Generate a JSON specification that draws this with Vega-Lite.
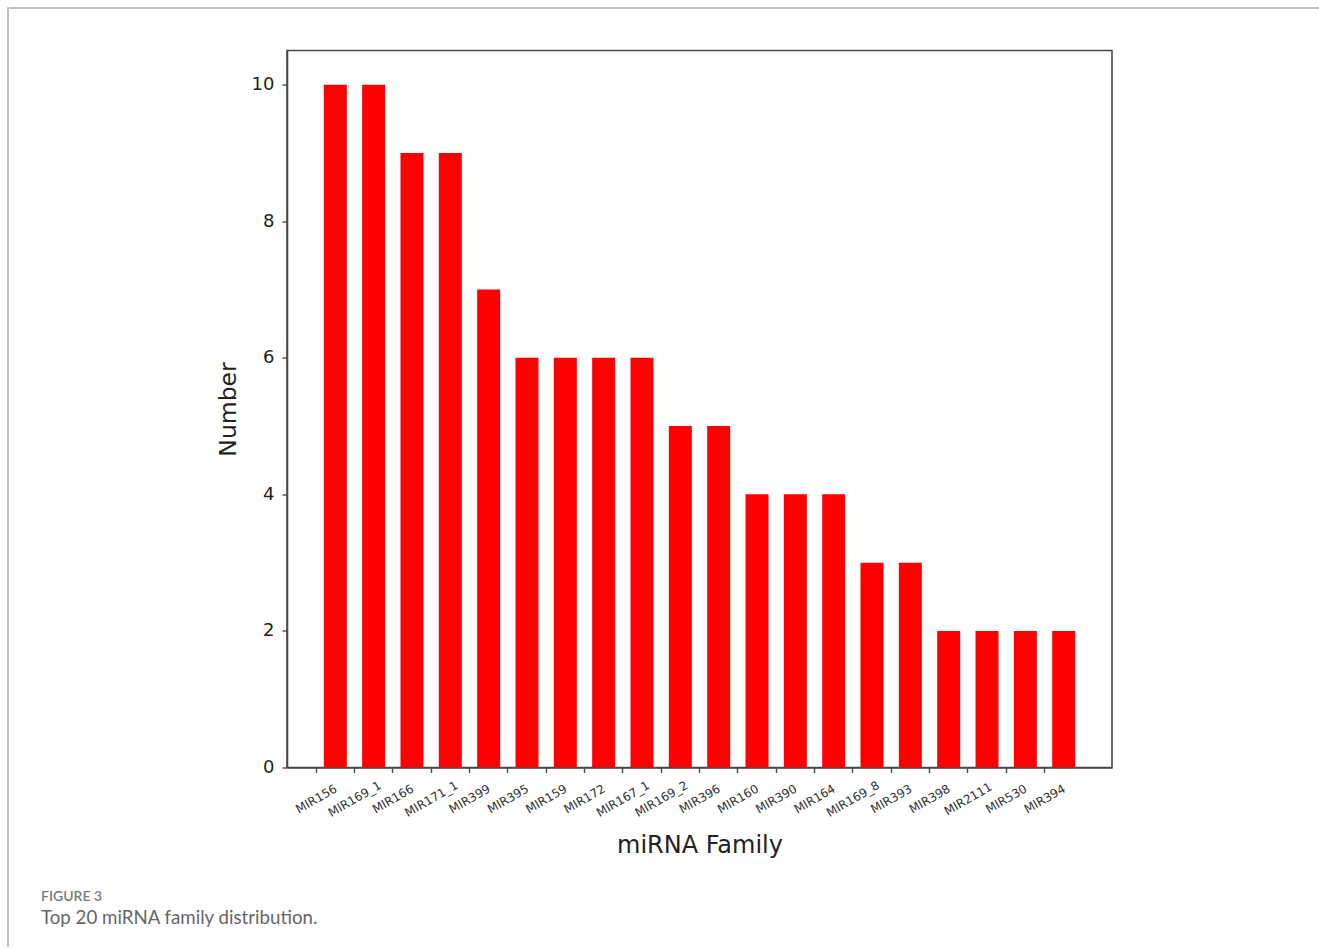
{
  "$schema": "https://vega.github.io/schema/vega-lite/v6.json",
  "padding": {"left": 7, "top": 7, "right": 0, "bottom": 0},
  "background": "white",
  "spacing": 0,
  "config": {
    "view": {"stroke": null},
    "font": "DejaVu Sans",
    "concat": {"spacing": 0}
  },
  "hconcat": [
    {
      "width": 0.01,
      "height": 938,
      "view": {"stroke": "#ababab", "strokeWidth": 1.5},
      "data": {"values": []},
      "mark": "point"
    },
    {
      "align": "none",
      "spacing": 40.5,
      "vconcat": [
        {
          "width": 1310,
          "height": 0.01,
          "view": {"stroke": "#ababab", "strokeWidth": 1.5},
          "data": {"values": []},
          "mark": "point"
        },
        {
          "spacing": 20,
          "title": {
            "text": "FIGURE 3",
            "subtitle": "Top 20 miRNA family distribution.",
            "orient": "bottom",
            "anchor": "start",
            "frame": "group",
            "dx": 31,
            "offset": 32,
            "font": "Lato",
            "fontSize": 14,
            "fontWeight": 600,
            "color": "#7a7a7a",
            "subtitleFont": "Lato",
            "subtitleFontSize": 18.7,
            "subtitleColor": "#666666",
            "subtitlePadding": 5
          },
          "hconcat": [
            {
              "width": 185,
              "height": 1,
              "data": {"values": []},
              "mark": "point"
            },
            {
              "width": 825,
              "height": 717,
              "view": {"stroke": "#4a4a4a", "strokeWidth": 1.6},
              "data": {
                "values": [
                  {"family": "MIR156", "count": 10},
                  {"family": "MIR169_1", "count": 10},
                  {"family": "MIR166", "count": 9},
                  {"family": "MIR171_1", "count": 9},
                  {"family": "MIR399", "count": 7},
                  {"family": "MIR395", "count": 6},
                  {"family": "MIR159", "count": 6},
                  {"family": "MIR172", "count": 6},
                  {"family": "MIR167_1", "count": 6},
                  {"family": "MIR169_2", "count": 5},
                  {"family": "MIR396", "count": 5},
                  {"family": "MIR160", "count": 4},
                  {"family": "MIR390", "count": 4},
                  {"family": "MIR164", "count": 4},
                  {"family": "MIR169_8", "count": 3},
                  {"family": "MIR393", "count": 3},
                  {"family": "MIR398", "count": 2},
                  {"family": "MIR2111", "count": 2},
                  {"family": "MIR530", "count": 2},
                  {"family": "MIR394", "count": 2}
                ]
              },
              "mark": {"type": "bar", "color": "#ff0000"},
              "encoding": {
                "x": {
                  "field": "family",
                  "type": "nominal",
                  "sort": null,
                  "scale": {"paddingInner": 0.4, "paddingOuter": 0.96},
                  "axis": {
                    "title": "miRNA Family",
                    "titleFontSize": 24,
                    "titleFontWeight": "normal",
                    "titleColor": "#222222",
                    "titlePadding": 15,
                    "labelAngle": -30,
                    "labelAlign": "center",
                    "labelBaseline": "middle",
                    "labelPadding": 26,
                    "labelOffset": -19,
                    "labelFontSize": 12,
                    "labelColor": "#333333",
                    "labelOverlap": false,
                    "bandPosition": -0.33,
                    "tickSize": 5,
                    "tickColor": "#4a4a4a",
                    "tickWidth": 1.4,
                    "domainColor": "#4a4a4a",
                    "domainWidth": 1.6
                  }
                },
                "y": {
                  "field": "count",
                  "type": "quantitative",
                  "scale": {"domain": [0, 10.5], "nice": false},
                  "axis": {
                    "title": "Number",
                    "titleFontSize": 23.5,
                    "titleFontWeight": "normal",
                    "titleColor": "#222222",
                    "titlePadding": 11,
                    "values": [0, 2, 4, 6, 8, 10],
                    "grid": false,
                    "labelFontSize": 18,
                    "labelColor": "#222222",
                    "labelPadding": 8,
                    "tickSize": 5,
                    "tickColor": "#4a4a4a",
                    "tickWidth": 1.4,
                    "domainColor": "#4a4a4a",
                    "domainWidth": 1.6
                  }
                }
              }
            }
          ]
        }
      ]
    }
  ]
}
